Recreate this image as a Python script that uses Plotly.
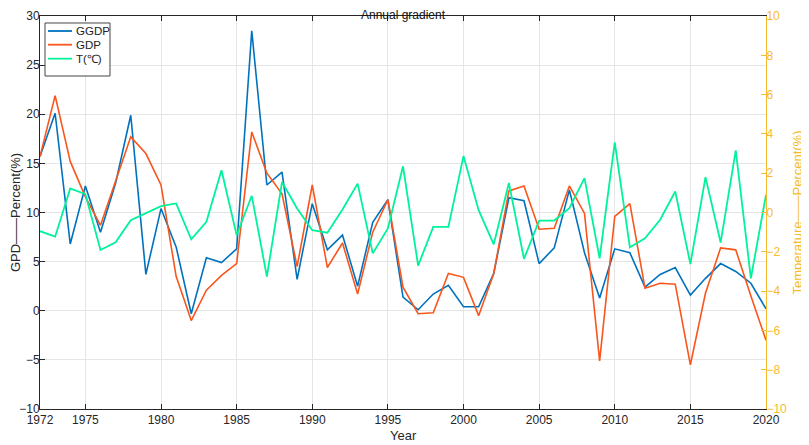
import plotly.graph_objects as go

# Données (1972-2020)
years = list(range(1972, 2021))

ggdp = [15.7, 20.1, 6.8, 12.7, 8.0, 13.0, 19.9, 3.7, 10.4, 6.5,
        -0.3, 5.4, 4.9, 6.3, 28.5, 12.8, 14.1, 3.2, 10.9, 6.2,
        7.7, 2.5, 9.0, 11.3, 1.4, 0.1, 1.7, 2.6, 0.4, 0.4,
        3.8, 11.5, 11.2, 4.8, 6.4, 12.3, 5.9, 1.3, 6.3, 5.9,
        2.4, 3.7, 4.4, 1.6, 3.3, 4.8, 4.0, 2.8, 0.2]

gdp = [15.7, 21.9, 15.2, 11.6, 8.7, 13.3, 17.7, 16.0, 12.8, 3.5,
       -1.0, 2.1, 3.6, 4.8, 18.2, 14.0, 11.9, 4.5, 12.8, 4.4,
       6.9, 1.7, 8.0, 11.3, 2.4, -0.3, -0.2, 3.8, 3.4, -0.5,
       3.8, 12.2, 12.7, 8.3, 8.4, 12.7, 9.9, -5.1, 9.6, 10.9,
       2.3, 2.8, 2.7, -5.5, 1.8, 6.4, 6.2, 1.5, -3.0]

temp = [-0.95, -1.23, 1.22, 0.93, -1.91, -1.52, -0.39, -0.02, 0.32, 0.46,
        -1.37, -0.47, 2.15, -1.15, 0.85, -3.26, 1.55, 0.2, -0.9, -1.03,
        0.15, 1.47, -2.08, -0.81, 2.35, -2.7, -0.73, -0.73, 2.87, 0.12,
        -1.62, 1.5, -2.36, -0.41, -0.41, 0.22, 1.75, -2.33, 3.57, -1.77,
        -1.31, -0.37, 1.07, -2.62, 1.8, -1.53, 3.16, -3.35, 0.9]

x_ticks = [1972, 1975, 1980, 1985, 1990, 1995, 2000, 2005, 2010, 2015, 2020]

legend_names = ['GGDP', 'GDP', 'T(℃)']

BLUE = '#0072BD'
ORANGE = '#F9561D'
GREEN = '#00F29B'
YELLOW = '#F7BA2C'
FONT = 'Liberation Sans, Arial, sans-serif'
colors = [BLUE, ORANGE, GREEN]

fig = go.Figure()
fig.add_trace(go.Scatter(x=years, y=ggdp, mode='lines', name=legend_names[0],
                         line=dict(color=BLUE, width=1.6)))
fig.add_trace(go.Scatter(x=years, y=gdp, mode='lines', name=legend_names[1],
                         line=dict(color=ORANGE, width=1.6)))
fig.add_trace(go.Scatter(x=years, y=temp, mode='lines', name=legend_names[2],
                         line=dict(color=GREEN, width=1.8), yaxis='y2'))

# Légende compacte façon MATLAB (cadre + échantillons de ligne + textes)
fig.add_shape(type='rect', xref='paper', yref='paper',
              x0=0.0069, x1=0.0964, y0=0.8473, y1=0.9822,
              line=dict(color='#444444', width=1), fillcolor='white', layer='above')
row_y = [0.9618, 0.9270, 0.8914]
for name, color, ry in zip(legend_names, colors, row_y):
    fig.add_shape(type='line', xref='paper', yref='paper',
                  x0=0.0110, x1=0.0441, y0=ry, y1=ry,
                  line=dict(color=color, width=1.8), layer='above')
    fig.add_annotation(text=name, xref='paper', yref='paper', x=0.0468, y=ry,
                       xanchor='left', yanchor='middle', showarrow=False,
                       font=dict(size=11.5, color='#222222'))

# titre de l'axe x placé à la main (plus près des graduations)
fig.add_annotation(text='Year', xref='paper', yref='paper', x=0.5, y=-0.067,
                   xanchor='center', yanchor='middle', showarrow=False,
                   font=dict(size=13, color='#262626'))

# la page ajoute une marge de 8 px autour de la figure
fig.update_layout(
    width=801, height=437,
    margin=dict(l=32, r=43, t=8, b=36, autoexpand=False),
    plot_bgcolor='white', paper_bgcolor='white',
    font=dict(family=FONT, size=12, color='#262626'),
    title=dict(text='Annual gradient', x=0.5, xref='paper', xanchor='center',
               y=1 - 3 / 393, yref='paper', yanchor='bottom', pad=dict(b=0),
               font=dict(size=12, color='#111111')),
    showlegend=False,
    xaxis=dict(range=[1972, 2020], tickvals=x_ticks, automargin=False,
               showgrid=True, gridcolor='#E5E5E5', gridwidth=1,
               showline=True, linecolor='#262626', linewidth=1, mirror='ticks',
               ticks='inside', ticklen=5, tickcolor='#262626',
               ticklabelstandoff=0, zeroline=False),
    yaxis=dict(range=[-10, 30], dtick=5, automargin=False,
               showgrid=True, gridcolor='#E5E5E5', gridwidth=1,
               showline=True, linecolor='#262626', linewidth=1,
               ticks='inside', ticklen=5, tickcolor='#262626',
               ticklabelstandoff=-3, zeroline=False,
               title=dict(text='GPD——Percent(%)', standoff=0, font=dict(size=13))),
    yaxis2=dict(range=[-10, 10], dtick=2, overlaying='y', side='right',
                automargin=False, showgrid=False, zeroline=False,
                showline=True, linecolor=YELLOW, linewidth=1,
                ticks='inside', ticklen=5, tickcolor=YELLOW,
                ticklabelstandoff=-3,
                tickfont=dict(color=YELLOW, size=12),
                title=dict(text='Temperature——Percent(%)', standoff=6,
                           font=dict(color=YELLOW, size=13))),
)

fig.write_html("out.html")
